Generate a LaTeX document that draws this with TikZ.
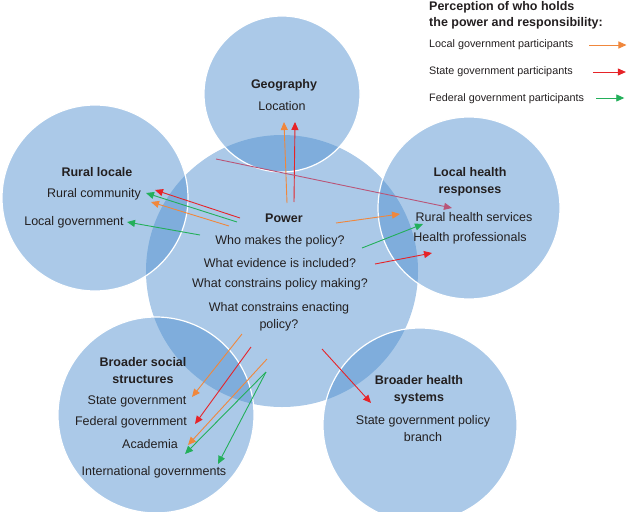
\documentclass[tikz,border=0pt]{standalone}
\usepackage{fontspec}
\setmainfont{Liberation Sans}
\usepackage[svgnames, dvipsnames]{xcolor}
\usetikzlibrary{calc, arrows.meta}

\definecolor{zoneblue}{RGB}{79,143,207}
\definecolor{localarr}{RGB}{240,135,60}
\definecolor{statearr}{RGB}{230,35,40}
\definecolor{fedarr}{RGB}{35,175,90}
\definecolor{linkarr}{RGB}{185,85,120}
\definecolor{inktext}{RGB}{35,31,32}

\begin{document}
\begin{tikzpicture}
    [x=1pt, y=-1pt,
    zone/.style={circle, fill=zoneblue, fill opacity=0.48, draw=white, line width=1.2pt, inner sep=0pt},
    head/.style={font=\fontsize{12.5}{17}\selectfont\bfseries, text=inktext, align=center, inner sep=1pt},
    item/.style={font=\fontsize{12.5}{17}\selectfont, text=inktext, align=center, inner sep=1pt},
    legtext/.style={font=\fontsize{10.8}{13}\selectfont, text=inktext, anchor=west, inner sep=0pt},
    perc/.style={-{Triangle[length=8pt,width=7pt]}, line width=0.9pt}]
\useasboundingbox (0,0) rectangle (628,511);
% circles
\node[zone, draw=none, minimum size=272pt] (power) at (282,271) {};
\node[zone, minimum size=156pt] (geo) at (282,94) {};
\node[zone, minimum size=186pt] (rural) at (95,198) {};
\node[zone, minimum size=182pt] (localh) at (469,208) {};
\node[zone, minimum size=196pt] (social) at (156,415) {};
\node[zone, minimum size=194pt] (hsys) at (420,425) {};
% texts
\node[head] (geohead) at (284,85) {Geography};
\node[item] (geoloc) at (282,106) {Location};
\node[head] (ruralhead) at (97,172) {Rural locale};
\node[item] (ruralcom) at (94,194) {Rural community};
\node[item] (rurallg) at (74,222) {Local government};
\node[head] (powerhead) at (284,218) {Power};
\node[item] (q1) at (280,241) {Who makes the policy?};
\node[item] (q2) at (280,263) {What evidence is included?};
\node[item] (q3) at (280,284) {What constrains policy making?};
\node[item] (q4) at (279,317) {What constrains enacting\\policy?};
\node[head] (localhead) at (470,181.5) {Local health\\responses};
\node[item] (lhserv) at (474,217) {Rural health services};
\node[item] (lhprof) at (470,238) {Health professionals};
\node[head] (socialhead) at (143,370.5) {Broader social\\structures};
\node[item] (sstate) at (137,401) {State government};
\node[item] (sfed) at (131,422) {Federal government};
\node[item] (sacad) at (150,444) {Academia};
\node[item] (sintl) at (154,472) {International governments};
\node[head] (hsyshead) at (419,389.5) {Broader health\\systems};
\node[item] (hsysbranch) at (423,428.5) {State government policy\\branch};
% legend
\node[head, anchor=north west, align=left, font=\fontsize{12.5}{16}\selectfont\bfseries] (legtitle) at (428,0) {Perception of who holds\\the power and responsibility:};
\node[legtext] (leglocal) at (429,45) {Local government participants};
\node[legtext] (legstate) at (429,72) {State government participants};
\node[legtext] (legfed) at (429,99) {Federal government participants};
\draw[perc, localarr] ($(leglocal.east)+(16,0)$) -- ($(leglocal.east)+(53,0)$);
\draw[perc, statearr] ($(legstate.east)+(20,0)$) -- ($(legstate.east)+(53,0)$);
\draw[perc, fedarr] ($(legfed.east)+(12,-1)$) -- ($(legfed.east)+(40,-1)$);
% arrow ends
\coordinate (geoA) at (287,203); \coordinate (geoAt) at (284,122);
\coordinate (geoB) at (294,202); \coordinate (geoBt) at (295,122);
\coordinate (linkA) at (216,159); \coordinate (linkAt) at (452,208);
\coordinate (rurA) at (240,218); \coordinate (rurAt) at (155,190);
\coordinate (rurB) at (237,222); \coordinate (rurBt) at (146,193);
\coordinate (rurC) at (229,226); \coordinate (rurCt) at (151,202);
\coordinate (rurD) at (200,235); \coordinate (rurDt) at (127,222);
\coordinate (lhA) at (336,223); \coordinate (lhAt) at (400,214);
\coordinate (lhB) at (362,248); \coordinate (lhBt) at (423,224);
\coordinate (lhC) at (375,264); \coordinate (lhCt) at (432,253);
\coordinate (hsA) at (322,349); \coordinate (hsAt) at (371,403);
\coordinate (socA) at (242,334); \coordinate (socAt) at (192,397);
\coordinate (socB) at (251,347); \coordinate (socBt) at (195,424);
\coordinate (socC) at (267,359); \coordinate (socCt) at (188,445);
\coordinate (socD) at (266,372); \coordinate (socDt) at (185,454);
\coordinate (socEt) at (218,464);
% arrows
\draw[perc, localarr] (geoA) -- (geoAt);
\draw[perc, statearr] (geoB) -- (geoBt);
\draw[perc, linkarr] (linkA) -- (linkAt);
\draw[perc, statearr] (rurA) -- (rurAt);
\draw[perc, fedarr] (rurB) -- (rurBt);
\draw[perc, localarr] (rurC) -- (rurCt);
\draw[perc, fedarr] (rurD) -- (rurDt);
\draw[perc, localarr] (lhA) -- (lhAt);
\draw[perc, fedarr] (lhB) -- (lhBt);
\draw[perc, statearr] (lhC) -- (lhCt);
\draw[perc, statearr] (hsA) -- (hsAt);
\draw[perc, localarr] (socA) -- (socAt);
\draw[perc, statearr] (socB) -- (socBt);
\draw[perc, localarr] (socC) -- (socCt);
\draw[perc, fedarr] (socD) -- (socDt);
\draw[perc, fedarr] (socD) -- (socEt);
\end{tikzpicture}
\end{document}
